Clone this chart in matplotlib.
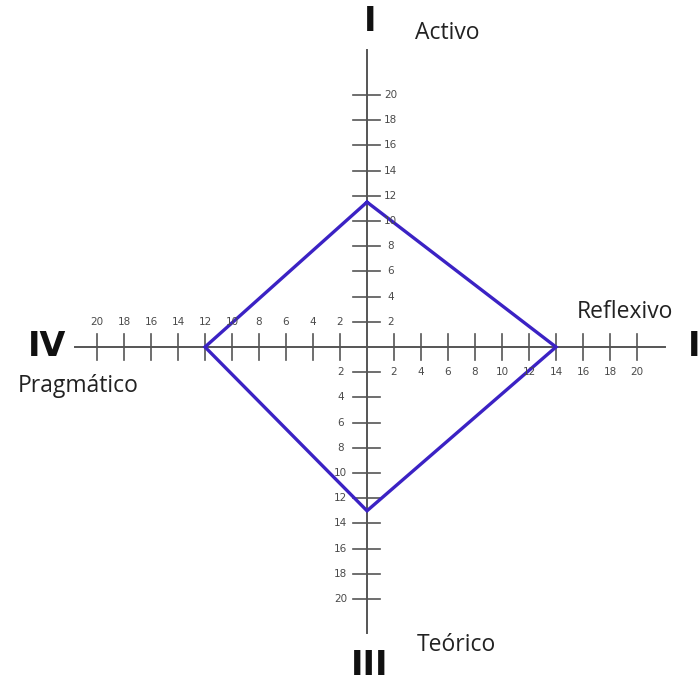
import matplotlib
matplotlib.use("Agg")
import matplotlib.pyplot as plt

# Data
styles = ["Activo", "Reflexivo", "Teórico", "Pragmático"]
scores = [11.5, 14, 13, 12]          # up, right, down, left
quadrants = ["I", "II", "III", "IV"]
tick_values = [2, 4, 6, 8, 10, 12, 14, 16, 18, 20]

W, H = 700, 684
fig = plt.figure(figsize=(W / 100, H / 100), dpi=100)
ax = fig.add_axes([0, 0, 1, 1])
cx, cy = 367, 347
sx, sy = 13.5, 12.6
ax.set_xlim(-cx / sx, (W - cx) / sx)
ax.set_ylim(-(H - cy) / sy, cy / sy)
ax.axis("off")

axis_col = "#555555"
# axes lines
ax.plot([-21.6, 22.1], [0, 0], color=axis_col, lw=1.4)
ax.plot([0, 0], [-22.7, 23.6], color=axis_col, lw=1.4)

tl_x = 1.0   # half tick length in x units
tl_y = 1.05
lab_col = "#4a4a4a"
fs = 7.5
for v in tick_values:
    for s in (-1, 1):
        ax.plot([s * v, s * v], [-tl_y, tl_y], color=axis_col, lw=1.2)
        ax.plot([-tl_x, tl_x], [s * v, s * v], color=axis_col, lw=1.2)
    ax.text(-v, 1.95, str(v), ha="center", va="center", fontsize=fs, color=lab_col)
    ax.text(v, -1.95, str(v), ha="center", va="center", fontsize=fs, color=lab_col)
    ax.text(1.75, v, str(v), ha="center", va="center", fontsize=fs, color=lab_col)
    ax.text(-1.95, -v, str(v), ha="center", va="center", fontsize=fs, color=lab_col)

# diamond
up, right, down, left = scores
xs = [0, right, 0, -left, 0]
ys = [up, 0, -down, 0, up]
ax.plot(xs, ys, color="#3b22c4", lw=2.4, solid_joinstyle="miter")

# quadrant numerals
rn = dict(fontsize=24, fontweight="bold", color="#111111", ha="center", va="center",
          family="DejaVu Sans")
ax.text(0.2, 25.8, quadrants[0], **rn)
ax.text(23.8, 0, quadrants[1], **dict(rn, ha="left"))
ax.text(0.2, -25.3, quadrants[2], **rn)
ax.text(-23.7, 0, quadrants[3], **rn)

# style names
lf = dict(fontsize=16.5, color="#222222", family="Open Sans", va="center")
ax.text(3.55, 24.9, styles[0], ha="left", **lf)
ax.text(19.1, 2.8, styles[1], ha="center", **lf)
ax.text(3.7, -23.65, styles[2], ha="left", **lf)
ax.text(-21.4, -3.1, styles[3], ha="center", **lf)

fig.savefig("out.png", dpi=100, facecolor="white")
